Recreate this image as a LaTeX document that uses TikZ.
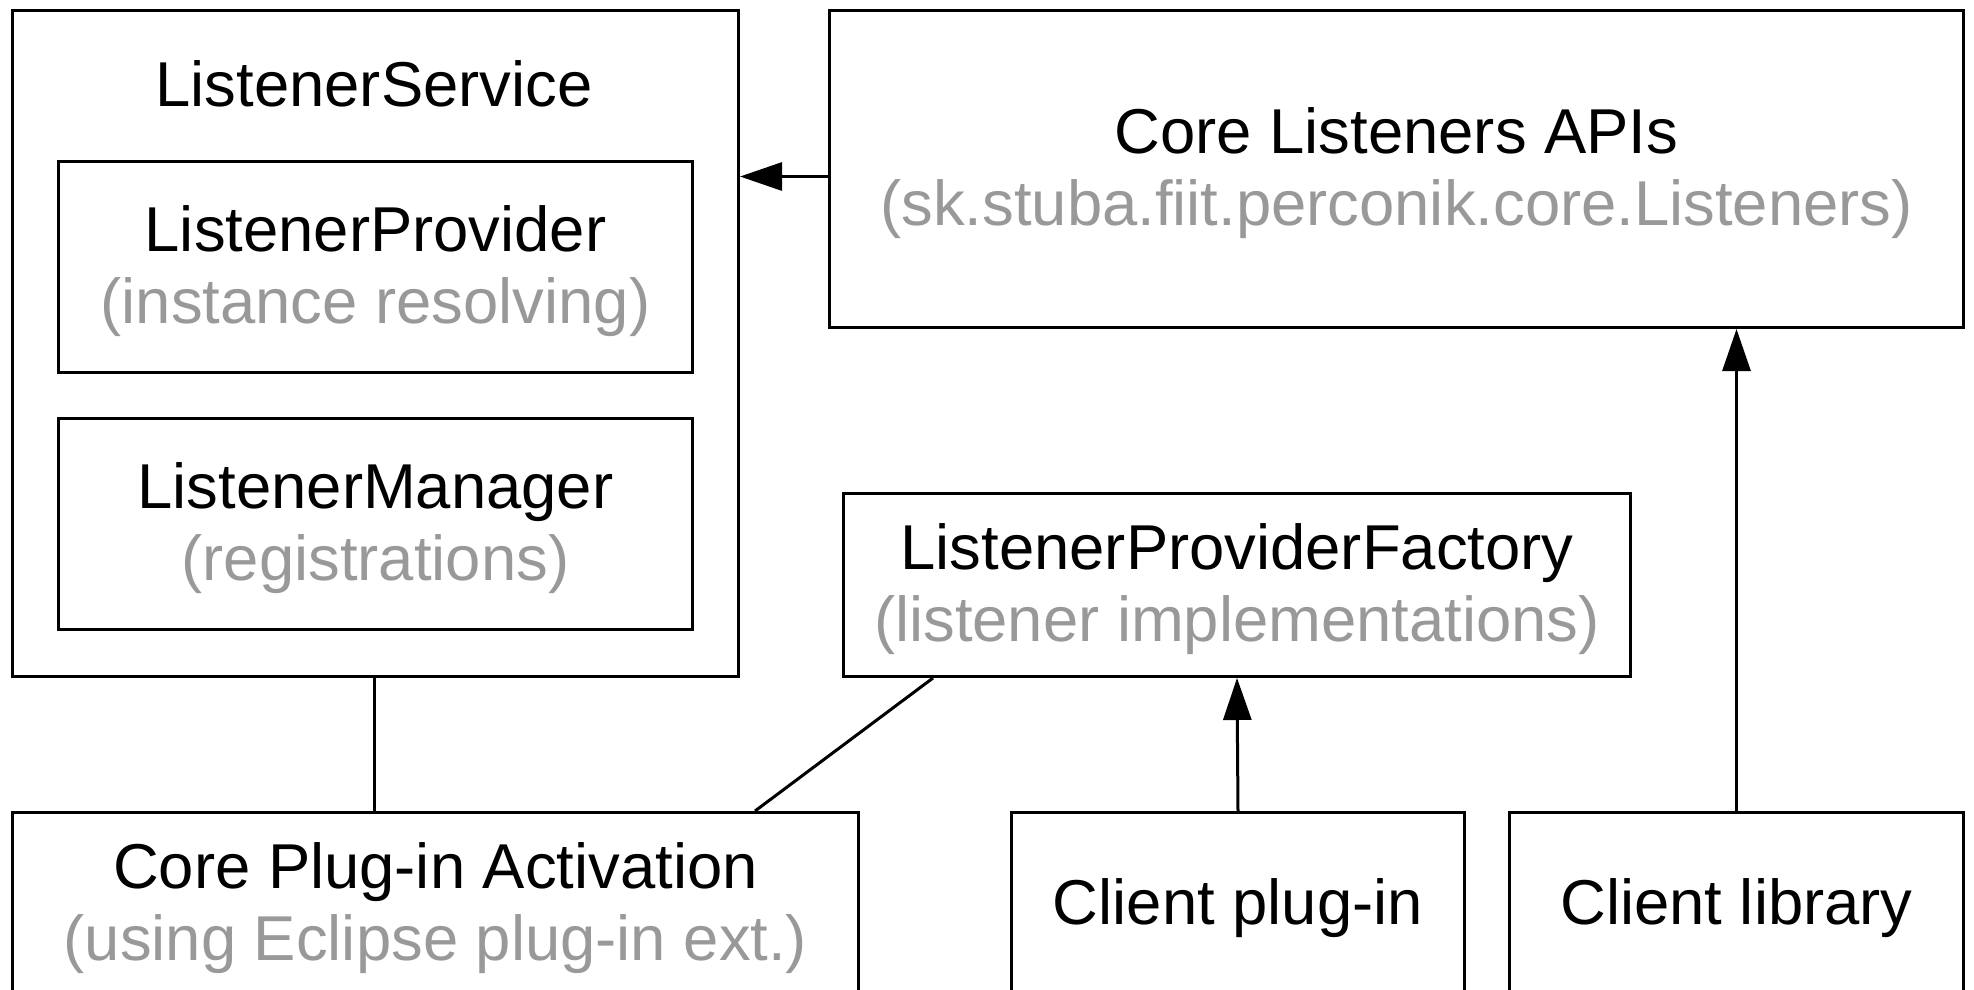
\documentclass[tikz,border=0pt]{standalone}
\usepackage{fontspec}
\setmainfont{Liberation Sans}
\usetikzlibrary{arrows.meta,calc}
\definecolor{subgray}{RGB}{153,153,153}
\tikzset{
  box/.style={draw=black, line width=3pt, rectangle, inner sep=0pt, anchor=north west, align=center,
              text depth=5pt, font=\fontsize{63.4}{72}\selectfont},
  conn/.style={draw=black, line width=3pt},
  arr/.style={conn, -{Triangle[length=42pt,width=28pt]}},
}
\newcommand{\sub}[1]{\textcolor{subgray}{#1}}
\begin{document}
\begin{tikzpicture}[x=1pt,y=-1pt]
  \useasboundingbox (0,0) rectangle (1974,989);
  % service container with its two parts
  \node[box, minimum width=726pt, minimum height=666pt] (LS) at (11,9) {};
  \node[font=\fontsize{63.4}{73}\selectfont, anchor=center] (LStitle) at (374,84) {ListenerService};
  \node[box, minimum width=634pt, minimum height=211pt] (LP) at (57,160)
    {ListenerProvider\\\sub{(instance resolving)}};
  \node[box, minimum width=634pt, minimum height=211pt] (LM) at (57,417)
    {ListenerManager\\\sub{(registrations)}};
  % public API
  \node[box, minimum width=1134pt, minimum height=317pt] (API) at (828,9)
    {Core Listeners APIs\\\sub{(sk.stuba.fiit.perconik.core.Listeners)}};
  % factory
  \node[box, minimum width=787pt, minimum height=183pt] (LPF) at (842,492)
    {ListenerProviderFactory\\\sub{(listener implementations)}};
  % bottom row (runs past the lower edge)
  \node[box, minimum width=846pt, minimum height=184pt] (CPA) at (11,811)
    {Core Plug-in Activation\\\sub{(using Eclipse plug-in ext.)}};
  \node[box, minimum width=453pt, minimum height=184pt] (CP) at (1010,811) {Client plug-in};
  \node[box, minimum width=454pt, minimum height=184pt] (CL) at (1508,811) {Client library};
  % connectors
  \draw[arr] ([yshift=-7.5pt]API.west) -- ([yshift=-7.5pt]API.west -| LS.east);
  \draw[conn] (LS.south -| LStitle.south) -- (LStitle.south |- CPA.north);
  \draw[conn] ([xshift=91pt]LPF.south west) -- ([xshift=-105pt]CPA.north east);
  \draw[arr] (CP.north) -- (LPF.south);
  \draw[arr] (CL.north) -- (CL.north |- API.south);
\end{tikzpicture}
\end{document}
